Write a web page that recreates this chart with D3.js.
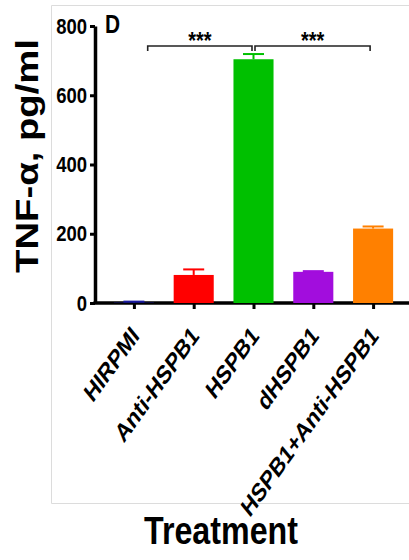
<!DOCTYPE html>
<html>
<head>
<meta charset="utf-8">
<script src="https://cdn.jsdelivr.net/npm/d3@7"></script>
<style>
  html, body { margin: 0; padding: 0; background: #fff; }
  svg { display: block; }
  text { font-family: "Liberation Sans", Arial, sans-serif; font-weight: bold; fill: #000; }
</style>
</head>
<body>
<svg id="chart" width="409" height="560"></svg>
<script>
// Treatment groups and TNF-α readings (pg/ml), mean ± SEM
const categories = ["HIRPMI", "Anti-HSPB1", "HSPB1", "dHSPB1", "HSPB1+Anti-HSPB1"];
const means = [1, 81, 704, 90, 215];
const errors = [3, 16, 15, 2, 6];
const colors = ["#1a1aa0", "#ff0000", "#00c000", "#a20ddd", "#ff8000"];
const yTicks = [0, 200, 400, 600, 800];
// significance brackets: [from group, to group, label]
const brackets = [["Anti-HSPB1", "HSPB1", "***"], ["HSPB1", "HSPB1+Anti-HSPB1", "***"]];

const svg = d3.select("#chart");
const stretch = 1.22; // glyphs are drawn taller than wide

// light panel frame
const frame = svg.append("g").attr("stroke", "#dcdcdc").attr("stroke-width", 1).attr("fill", "none");
frame.append("path").attr("d", "M51.5,503.5 V5.5 H409");
frame.append("path").attr("d", "M51.5,503.5 H409");

const x = d3.scalePoint().domain(categories).range([104, 403]).padding(0.5);
const y = d3.scaleLinear().domain([0, 800]).range([303, 26]);
const barW = x.step() * 0.67;
const capW = 21;

// y axis
const yAxis = svg.append("g").attr("transform", "translate(95,0)")
  .call(d3.axisLeft(y).tickValues(yTicks).tickSize(5).tickPadding(3).tickSizeOuter(0));
yAxis.select(".domain").attr("stroke", "#000").attr("stroke-width", 3.5);
yAxis.selectAll(".tick line").attr("stroke", "#000").attr("stroke-width", 3);
yAxis.selectAll(".tick text")
  .attr("font-size", 18.5).attr("x", null).attr("dy", null)
  .attr("text-anchor", "end")
  .attr("transform", `translate(-8,7) scale(1,${stretch})`);

// x axis
const xAxis = svg.append("g").attr("transform", `translate(0,${y(0)})`)
  .call(d3.axisBottom(x).tickSize(6).tickSizeOuter(0));
xAxis.select(".domain").attr("d", "M93.5,0H409").attr("stroke", "#000").attr("stroke-width", 3.5);
xAxis.selectAll(".tick line").attr("stroke", "#000").attr("stroke-width", 3);
xAxis.selectAll(".tick text")
  .attr("font-size", 20).attr("y", null).attr("dy", null)
  .attr("text-anchor", "end")
  .attr("transform", `translate(6,34) scale(1,1.3) rotate(-47)`);

// bars
svg.append("g").selectAll("rect").data(categories).join("rect")
  .attr("x", d => x(d) - barW / 2)
  .attr("y", (d, i) => y(means[i]))
  .attr("width", barW)
  .attr("height", (d, i) => y(0) - y(means[i]))
  .attr("fill", (d, i) => colors[i]);

// error bars
const eb = svg.append("g").selectAll("g").data(categories).join("g")
  .attr("stroke", (d, i) => colors[i]).attr("stroke-width", 2);
eb.append("line")
  .attr("x1", d => x(d)).attr("x2", d => x(d))
  .attr("y1", (d, i) => y(means[i])).attr("y2", (d, i) => y(means[i] + errors[i]));
eb.append("line")
  .attr("x1", d => x(d) - capW / 2).attr("x2", d => x(d) + capW / 2)
  .attr("y1", (d, i) => y(means[i] + errors[i])).attr("y2", (d, i) => y(means[i] + errors[i]));

// significance brackets
const br = svg.append("g").attr("stroke", "#222").attr("stroke-width", 1.6).attr("fill", "none");
const brY = 46;
brackets.forEach(([a, b, lab], k) => {
  const x1 = k === 0 ? x(a) - 46 : x(a) + 1.5;
  const x2 = k === 0 ? x(b) - 1.5 : x(b) - 3;
  br.append("path").attr("d", `M${x1},${brY + 5}V${brY}H${x2}V${brY + 5}`);
  svg.append("text").text(lab)
    .attr("text-anchor", "middle").attr("font-size", 20)
    .attr("transform", `translate(${(x1 + x2) / 2},${brY + 3}) scale(1,${stretch})`);
});

// panel letter
svg.append("text").text("D").attr("font-size", 22)
  .attr("transform", `translate(105,33) scale(0.95,1.15)`);

// axis titles
svg.append("text").text("TNF-α, pg/ml")
  .attr("font-size", 31).attr("text-anchor", "middle")
  .attr("textLength", 234).attr("lengthAdjust", "spacingAndGlyphs")
  .attr("transform", "translate(38,156) rotate(-90)");

svg.append("text").text("Treatment")
  .attr("font-size", 38).attr("text-anchor", "middle")
  .attr("textLength", 154).attr("lengthAdjust", "spacingAndGlyphs")
  .attr("x", 221).attr("y", 544);
</script>
</body>
</html>
